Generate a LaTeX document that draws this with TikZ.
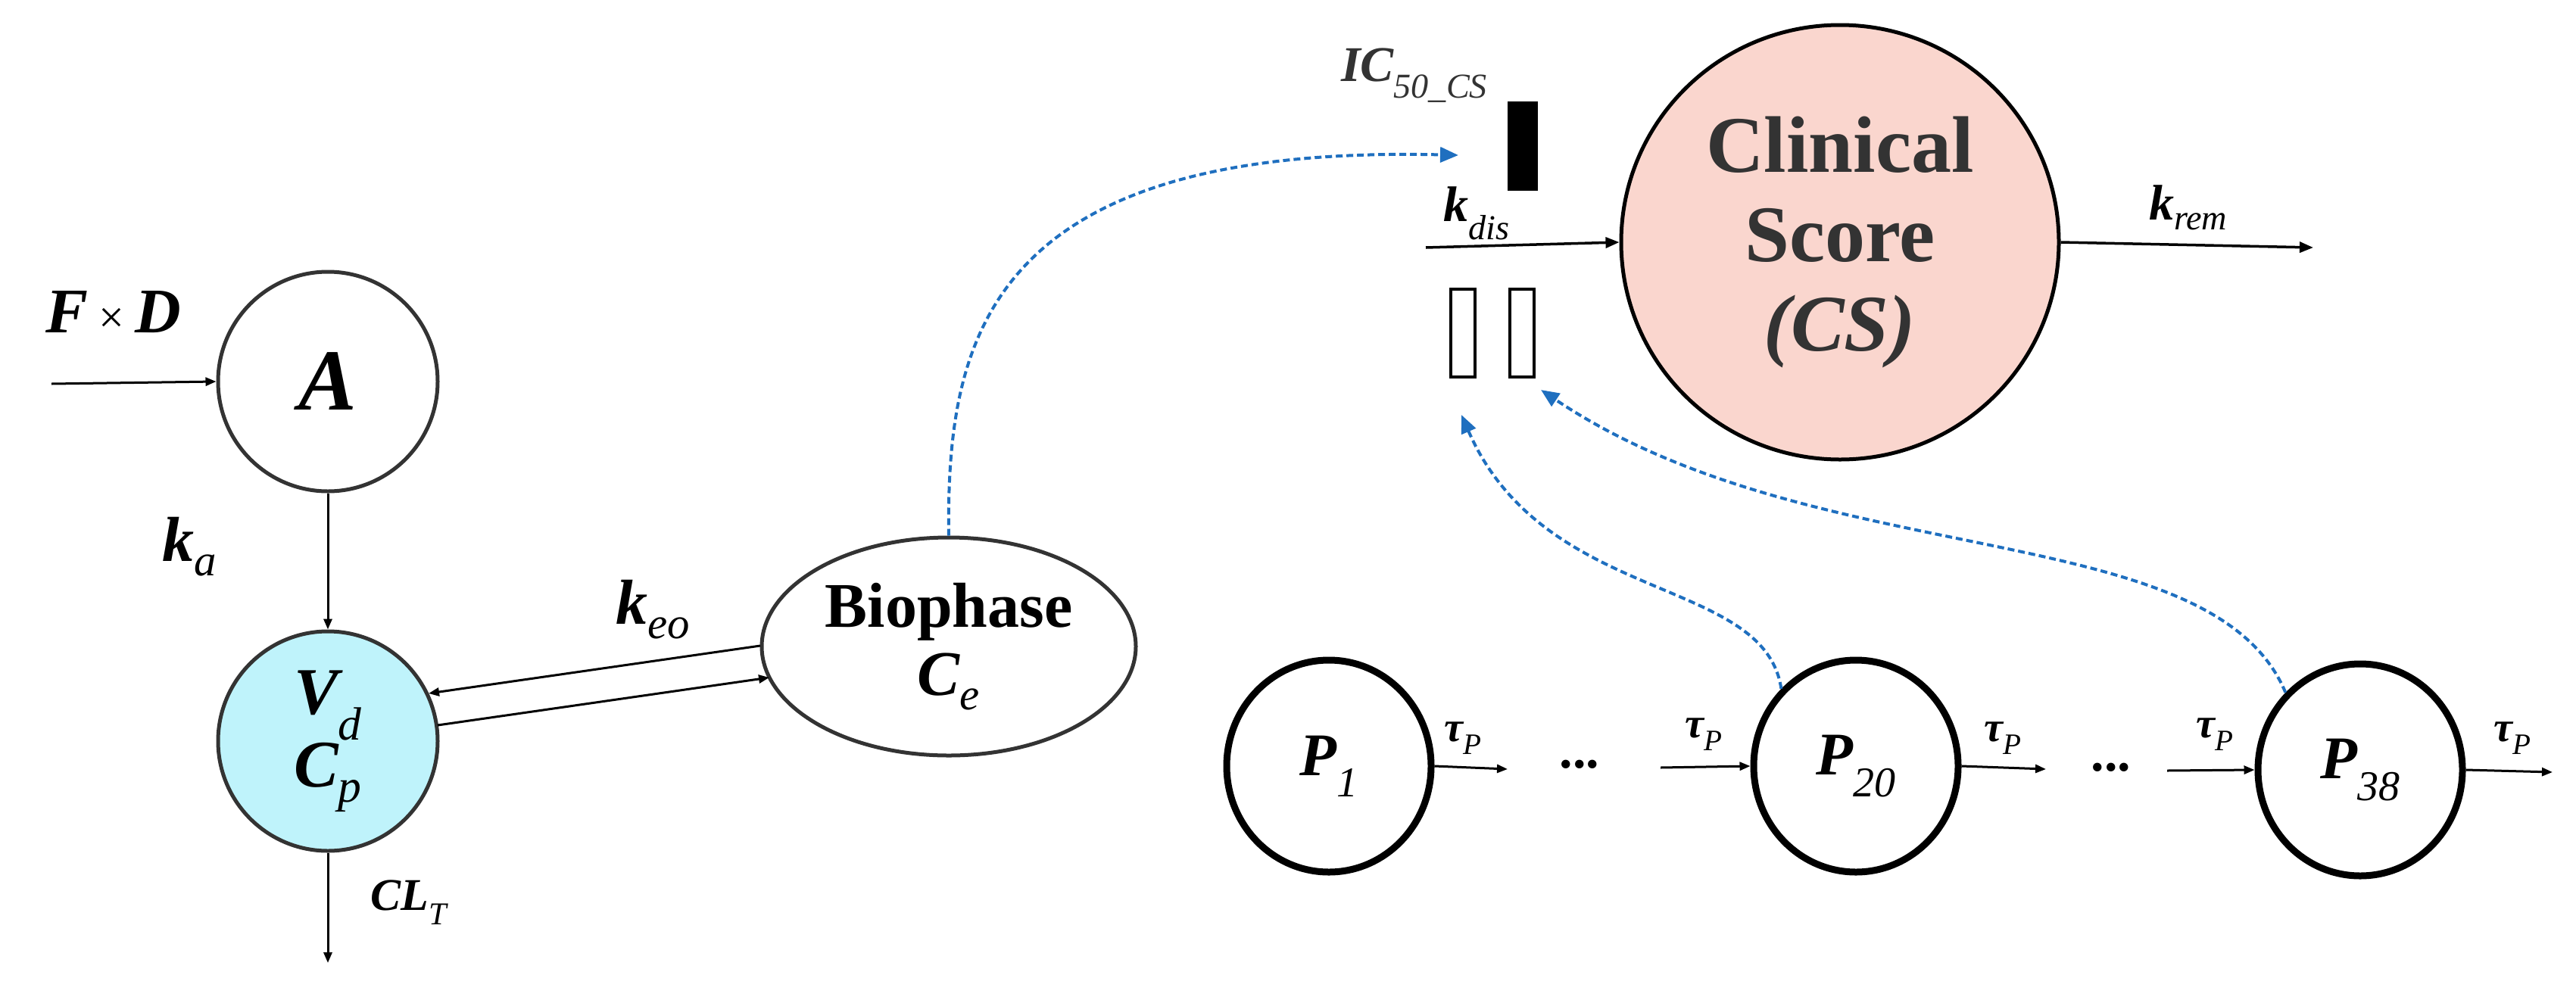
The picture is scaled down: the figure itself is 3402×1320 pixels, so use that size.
\documentclass[tikz,border=0pt]{standalone}
\usepackage{fontspec}
\setmainfont{Liberation Serif}
\usetikzlibrary{arrows.meta,shapes.geometric}
\definecolor{bl}{HTML}{1F6FBF}
\definecolor{cy}{HTML}{BFF3FB}
\definecolor{pk}{HTML}{FAD6CE}
\newcommand{\sbs}[1]{\textsubscript{\normalfont\itshape #1}}
\begin{document}
\begin{tikzpicture}[x=1pt,y=-1pt,
  comp/.style={ellipse,draw=black!80,line width=5pt,inner sep=0pt},
  pc/.style={ellipse,draw=black,line width=9pt,minimum width=270pt,minimum height=280pt,inner sep=0pt},
  lab/.style={font=\bfseries\itshape},
  ar/.style={-{Triangle[length=18pt,width=14pt]},line width=3.5pt},
  sar/.style={-{Triangle[length=14pt,width=11pt]},line width=3pt},
  dsh/.style={draw=bl,line width=4pt,dash pattern=on 9pt off 5pt,-{Triangle[length=24pt,width=20pt]}}]
\useasboundingbox (0,0) rectangle (3402,1320);
\node[comp,minimum width=290pt,minimum height=290pt,fill=white,font=\bfseries\itshape\fontsize{115}{120}\selectfont] (A) at (433,504) {A};
\node[comp,minimum width=290pt,minimum height=290pt,fill=cy,align=center,font=\bfseries\itshape\fontsize{88}{100}\selectfont] (V) at (433,979) {V\sbs{d}\\[-4pt]C\sbs{p}};
\node[comp,minimum width=494pt,minimum height=288pt,fill=white,align=center,font=\bfseries\fontsize{84}{96}\selectfont] (B) at (1253,854) {Biophase\\[-6pt]\itshape C\sbs{e}};
\node[ellipse,draw=black,line width=5pt,fill=pk,minimum width=578pt,minimum height=574pt,inner sep=0pt,align=center,font=\bfseries\fontsize{106}{118}\selectfont,text=black!80] (CS) at (2430,320) {Clinical\\Score\\\itshape(CS)};
\node[pc] (P1) at (1755,1012) {};
\node[pc] (P20) at (2451,1012) {};
\node[pc] (P38) at (3117,1017) {};
\node[lab,font=\bfseries\itshape\fontsize{80}{90}\selectfont] at (P1) {P\sbs{1}};
\node[lab,font=\bfseries\itshape\fontsize{80}{90}\selectfont] at (P20) {P\sbs{20}};
\node[lab,font=\bfseries\itshape\fontsize{80}{90}\selectfont] at (P38) {P\sbs{38}};
% left part
\coordinate (in) at (68,507);
\draw[sar] (in) -- (A.west);
\node[lab,font=\bfseries\itshape\fontsize{84}{90}\selectfont] (FD) at (150,412) {F\,{\normalfont\fontsize{60}{60}\selectfont×}\,D};
\draw[sar] (A.south) -- (V.north);
\node[lab,font=\bfseries\itshape\fontsize{84}{90}\selectfont] (ka) at (250,722) {k\sbs{a}};
\coordinate (out) at (433,1272);
\draw[sar] (V.south) -- (out);
\node[lab,font=\bfseries\itshape\fontsize{60}{70}\selectfont] (cl) at (540,1192) {CL\sbs{T}};
\coordinate (b1) at (1004,853); \coordinate (v1) at (566,916);
\coordinate (v2) at (578,958); \coordinate (b2) at (1016,895);
\draw[sar] (b1) -- (v1);
\draw[sar] (v2) -- (b2);
\node[lab,font=\bfseries\itshape\fontsize{84}{90}\selectfont] (keo) at (862,805) {k\sbs{eo}};
% right part
\node[lab,font=\bfseries\itshape\fontsize{66}{70}\selectfont,text=black!80,anchor=east] (ic) at (1968,100) {IC\sbs{50\_CS}};
\node[fill=black,minimum width=40pt,minimum height=118pt,inner sep=0pt] (bar) at (2011,193) {};
\node[draw=black,line width=4pt,minimum width=32pt,minimum height=116pt,inner sep=0pt] (o1) at (1932,440) {};
\node[draw=black,line width=4pt,minimum width=32pt,minimum height=116pt,inner sep=0pt] (o2) at (2010,440) {};
\coordinate (kd) at (1883,327);
\draw[ar] (kd) -- (CS.west);
\node[lab,font=\bfseries\itshape\fontsize{66}{70}\selectfont] at (1950,282) {k\sbs{dis}};
\coordinate (kr) at (3055,327);
\draw[ar] (CS.east) -- (kr);
\node[lab,font=\bfseries\itshape\fontsize{66}{70}\selectfont] at (2890,274) {k\sbs{rem}};
% P chain
\tikzset{tau/.style={font=\bfseries\itshape\fontsize{56}{60}\selectfont}}
\coordinate (c1) at (1991,1016); \draw[sar] (P1.east) -- (c1);
\node[tau] at (1932,975) {τ\sbs{P}};
\node[font=\bfseries\fontsize{70}{70}\selectfont] (d1) at (2086,1010) {...};
\coordinate (c2) at (2193,1014); \draw[sar] (c2) -- (P20.west);
\node[tau] at (2250,970) {τ\sbs{P}};
\coordinate (c3) at (2702,1016); \draw[sar] (P20.east) -- (c3);
\node[tau] at (2645,975) {τ\sbs{P}};
\node[font=\bfseries\fontsize{70}{70}\selectfont] (d2) at (2788,1014) {...};
\coordinate (c4) at (2862,1018); \draw[sar] (c4) -- (P38.west);
\node[tau] at (2925,970) {τ\sbs{P}};
\coordinate (c5) at (3371,1020); \draw[sar] (P38.east) -- (c5);
\node[tau] at (3318,975) {τ\sbs{P}};
% blue dashed
\coordinate (t0) at (1926,205);
\coordinate (t1) at (1930,548);
\coordinate (t2) at (2035,515);
\draw[dsh] (B.north) .. controls (1250,450) and (1300,190) .. (t0);
\draw[dsh] (P20.north west) .. controls (2330,760) and (2040,800) .. (t1);
\draw[dsh] (P38.north west) .. controls (2920,680) and (2400,760) .. (t2);
\end{tikzpicture}
\end{document}
